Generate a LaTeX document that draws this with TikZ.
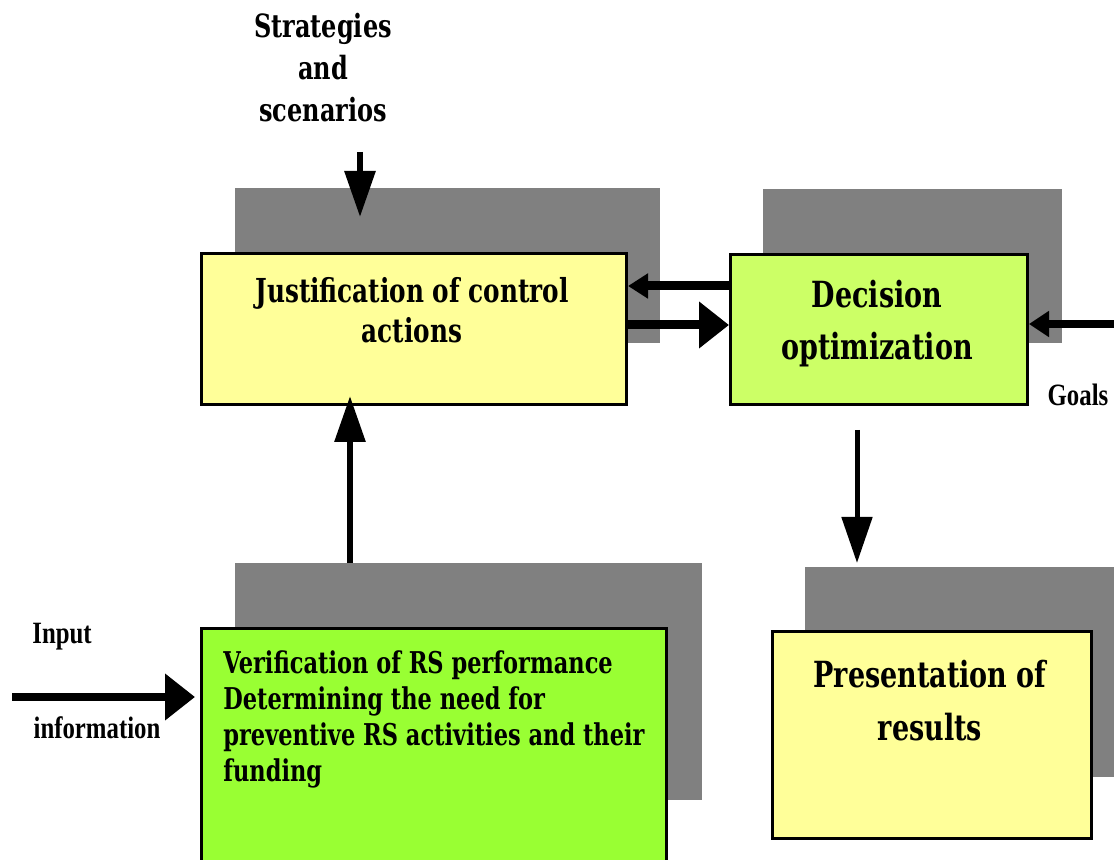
\documentclass[tikz,border=0pt]{standalone}
\usepackage{fontspec}
\setmainfont{DejaVu Serif}[FakeStretch=0.75]
\newfontfamily\tnr{Liberation Serif}[FakeStretch=0.8]
\usetikzlibrary{arrows.meta,calc}
\definecolor{boxyellow}{HTML}{FFFF99}
\definecolor{decgreen}{HTML}{CCFF66}
\definecolor{vergreen}{HTML}{99FF33}
\definecolor{shadowgray}{HTML}{808080}
\tikzset{
  shadowbox/.style={fill=shadowgray, draw=none, inner sep=0pt, anchor=north west},
  mainbox/.style={draw=black, line width=1.5pt, inner sep=0pt, anchor=north west},
  btext/.style={inner sep=0pt, align=center, font=\bfseries},
  lbl/.style={inner sep=0pt, font=\tnr\bfseries\fontsize{15.5}{18}\selectfont},
  conn/.style={line width=#1, draw=black},
}
\begin{document}
\begin{tikzpicture}[x=0.5pt,y=-0.5pt]
\useasboundingbox (0,0) rectangle (1114,860);
% shadows
\node[shadowbox, minimum width=212.5pt, minimum height=77.5pt] (sj) at (235,188) {};
\node[shadowbox, minimum width=149.5pt, minimum height=77pt] (sd) at (763,189) {};
\node[shadowbox, minimum width=233.5pt, minimum height=118.5pt] (sv) at (235,563) {};
\node[shadowbox, minimum width=154.5pt, minimum height=105pt] (sp) at (805,567) {};
% boxes
\node[mainbox, fill=boxyellow, minimum width=212.5pt, minimum height=75.5pt] (just) at (200,252) {};
\node[mainbox, fill=decgreen, minimum width=148.5pt, minimum height=75pt] (dec) at (729,253) {};
\node[mainbox, fill=vergreen, minimum width=232.5pt, minimum height=117pt] (ver) at (200,627) {};
\node[mainbox, fill=boxyellow, minimum width=159.5pt, minimum height=103.5pt] (pres) at (771,630) {};
% texts
\node[btext, font=\bfseries\fontsize{16}{21}\selectfont] (strat) at (323,68) {Strategies\\and\\scenarios};
\node[btext, font=\bfseries\fontsize{16.5}{20}\selectfont] (justtxt) at (412,310) {Justification of control\\actions};
\node[btext, font=\bfseries\fontsize{18}{26}\selectfont] (dectxt) at (877,324) {Decision\\optimization};
\node[btext, font=\bfseries\fontsize{18}{26.5}\selectfont] (prestxt) at (930,701) {Presentation of\\results};
\node[btext, align=left, anchor=north west, font=\bfseries\fontsize{15}{18}\selectfont] (vertxt) at (223,650)
  {Verification of RS performance\\Determining the need for\\preventive RS activities and their\\funding};
\node[lbl] (inp) at (62,637) {Input};
\node[lbl] (inf) at (97,728) {information};
\node[lbl] (goals) at (1078,395) {Goals};
% connector ends
\coordinate (sa) at (360,152);
\coordinate (ia) at (12,697);
\coordinate (ga) at (1114,324);
% arrows
\draw[conn=3pt, -{Triangle[length=23pt,width=15pt]}] (sa) -- (sa |- 0,217);
\draw[conn=3pt, -{Triangle[length=23pt,width=15pt]}] (sv.north -| 350,0) -- ($(just.south -| 350,0)+(0,-10)$);
\draw[conn=4.5pt, -{Triangle[length=10pt,width=12pt]}] (dec.west |- 0,286) -- (just.east |- 0,286);
\draw[conn=4.5pt, -{Triangle[length=15pt,width=22.5pt]}] (just.east |- 0,325) -- (dec.west |- 0,325);
\draw[conn=4pt, -{Triangle[length=10pt,width=12.5pt]}] (ga) -- (dec.east |- ga);
\draw[conn=2.5pt, -{Triangle[length=23pt,width=15pt]}] ($(dec.south -| 857,0)+(0,24)$) -- ($(sp.north -| 857,0)+(0,-4)$);
\draw[conn=4pt, -{Triangle[length=15pt,width=22.5pt]}] (ia) -- ($(ver.west |- ia)+(-5,0)$);
\end{tikzpicture}
\end{document}
